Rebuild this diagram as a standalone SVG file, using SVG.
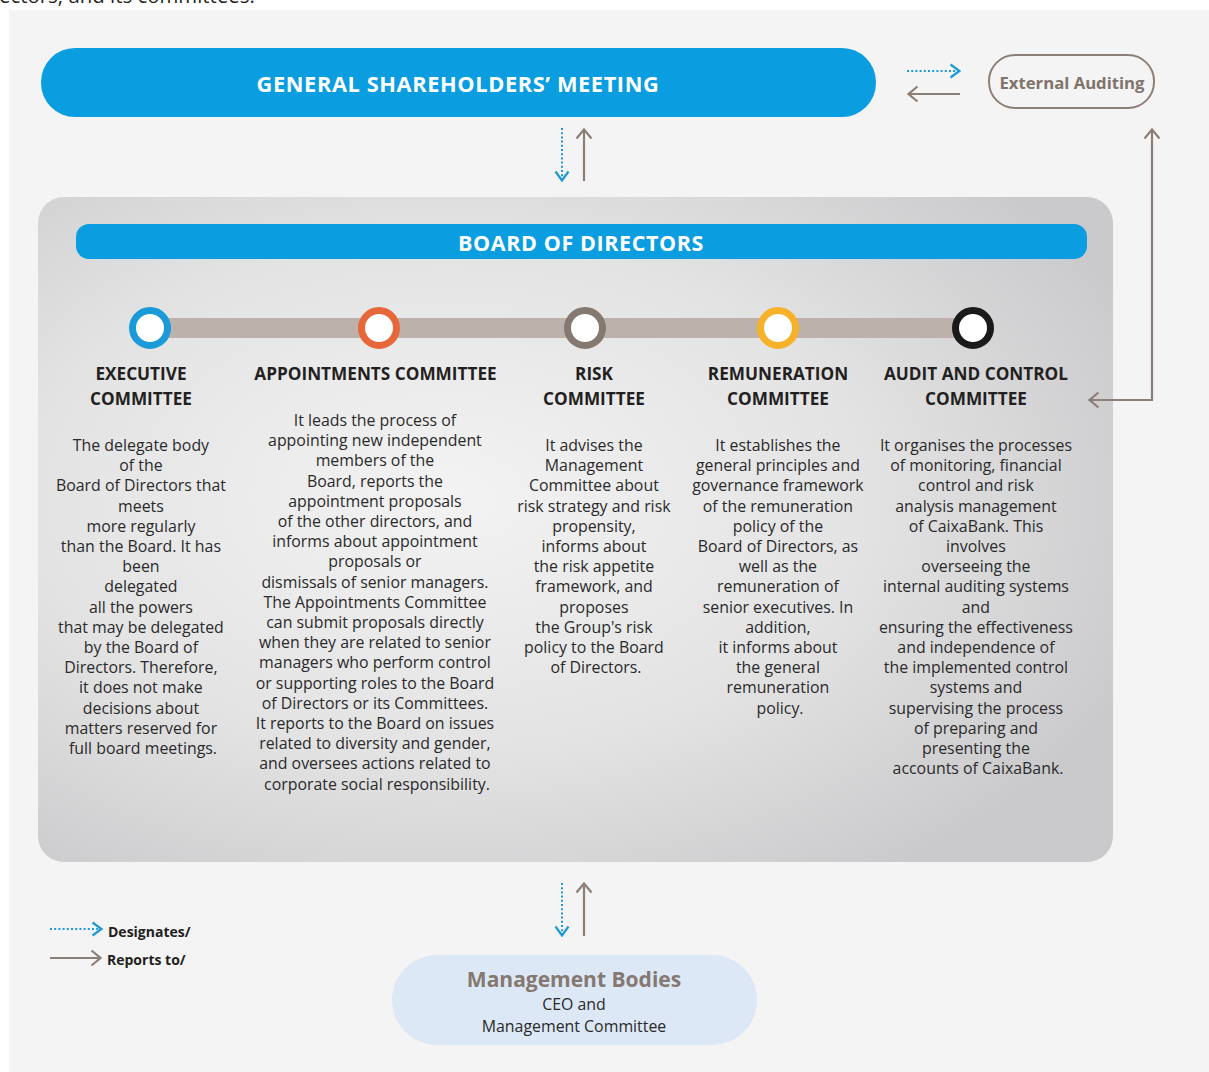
<svg xmlns="http://www.w3.org/2000/svg" width="1209" height="1072" viewBox="0 0 1209 1072">
<defs>
<style>
.body{font-family:"Open Sans","Liberation Sans",sans-serif;font-size:15.9px;fill:#2a2a2a;text-anchor:middle}
.title{font-family:"Open Sans","Liberation Sans",sans-serif;font-size:17.2px;font-weight:700;fill:#231f20;text-anchor:middle}
.hdr{font-family:"Open Sans","Liberation Sans",sans-serif;font-weight:700;fill:#ffffff;text-anchor:middle;letter-spacing:0.6px}
.dot{fill:none;stroke:#1d9ad6;stroke-width:2;stroke-dasharray:2 2.2}
.sol{fill:none;stroke:#8c7f78;stroke-width:2.2}
.leg{font-family:"Open Sans","Liberation Sans",sans-serif;font-size:14px;font-weight:700;fill:#231f20}
</style>
<marker id="mb" viewBox="0 0 12 16" refX="11" refY="8" markerWidth="12" markerHeight="16" markerUnits="userSpaceOnUse" orient="auto">
<path d="M1.5,1.5 L10.5,8 L1.5,14.5" fill="none" stroke="#1d9ad6" stroke-width="2.2"/>
</marker>
<marker id="mg" viewBox="0 0 12 18" refX="11" refY="9" markerWidth="12" markerHeight="18" markerUnits="userSpaceOnUse" orient="auto-start-reverse">
<path d="M1.5,1.5 L10.5,9 L1.5,16.5" fill="none" stroke="#8c7f78" stroke-width="2.2"/>
</marker>
<radialGradient id="bg" cx="0.38" cy="0.45" r="0.7">
<stop offset="0" stop-color="#f3f3f3"/>
<stop offset="0.55" stop-color="#e3e3e4"/>
<stop offset="1" stop-color="#cacacc"/>
</radialGradient>
</defs>
<rect x="0" y="0" width="1209" height="1072" fill="#ffffff"/>
<text x="-1" y="3" font-family="Open Sans, Liberation Sans, sans-serif" font-size="20.4" fill="#231f20">ectors, and its committees.</text>
<rect x="9" y="10" width="1200" height="1062" fill="#f4f4f4"/>

<g id="gsm">
<rect x="41" y="48" width="835" height="69" rx="34" fill="#0a9de0"/>
<text class="hdr" x="458" y="92" font-size="21.8">GENERAL SHAREHOLDERS’ MEETING</text>
</g>

<g id="external-auditing">
<rect x="989" y="55" width="165" height="53" rx="26" fill="none" stroke="#8c7f78" stroke-width="2"/>
<text x="1072" y="89" text-anchor="middle" font-family="Open Sans, Liberation Sans, sans-serif" font-size="16.7" font-weight="700" fill="#7f736c">External Auditing</text>
</g>

<g id="board">
<rect x="38" y="197" width="1075" height="665" rx="26" fill="url(#bg)"/>
<rect x="76" y="224" width="1011" height="35" rx="13" fill="#0a9de0"/>
<text class="hdr" x="581" y="250.5" font-size="21.5">BOARD OF DIRECTORS</text>
<rect x="150" y="318" width="823" height="20" fill="#bcb2ab"/>
</g>

<g id="executive-committee">
<circle cx="150" cy="328" r="17.5" fill="#ffffff" stroke="#1a9ad6" stroke-width="7"/>
<text class="title" x="141" y="380">EXECUTIVE</text>
<text class="title" x="141" y="405">COMMITTEE</text>
<text class="body" y="451">
<tspan x="143">The delegate body</tspan>
<tspan x="143" dy="20.2">of the</tspan>
<tspan x="143" dy="20.2">Board of Directors that</tspan>
<tspan x="143" dy="20.2">meets</tspan>
<tspan x="143" dy="20.2">more regularly</tspan>
<tspan x="143" dy="20.2">than the Board. It has</tspan>
<tspan x="143" dy="20.2">been</tspan>
<tspan x="143" dy="20.2">delegated</tspan>
<tspan x="143" dy="20.2">all the powers</tspan>
<tspan x="143" dy="20.2">that may be delegated</tspan>
<tspan x="143" dy="20.2">by the Board of</tspan>
<tspan x="143" dy="20.2">Directors. Therefore,</tspan>
<tspan x="143" dy="20.2">it does not make</tspan>
<tspan x="143" dy="20.2">decisions about</tspan>
<tspan x="143" dy="20.2">matters reserved for</tspan>
<tspan x="143" dy="20.2">full board meetings.</tspan>
</text>
</g>

<g id="appointments-committee">
<circle cx="379" cy="328" r="17.5" fill="#ffffff" stroke="#e8673a" stroke-width="7"/>
<text class="title" x="375.5" y="380">APPOINTMENTS COMMITTEE</text>
<text class="body" y="426">
<tspan x="377">It leads the process of</tspan>
<tspan x="377" dy="20.2">appointing new independent</tspan>
<tspan x="377" dy="20.2">members of the</tspan>
<tspan x="377" dy="20.2">Board, reports the</tspan>
<tspan x="377" dy="20.2">appointment proposals</tspan>
<tspan x="377" dy="20.2">of the other directors, and</tspan>
<tspan x="377" dy="20.2">informs about appointment</tspan>
<tspan x="377" dy="20.2">proposals or</tspan>
<tspan x="377" dy="20.2">dismissals of senior managers.</tspan>
<tspan x="377" dy="20.2">The Appointments Committee</tspan>
<tspan x="377" dy="20.2">can submit proposals directly</tspan>
<tspan x="377" dy="20.2">when they are related to senior</tspan>
<tspan x="377" dy="20.2">managers who perform control</tspan>
<tspan x="377" dy="20.2">or supporting roles to the Board</tspan>
<tspan x="377" dy="20.2">of Directors or its Committees.</tspan>
<tspan x="377" dy="20.2">It reports to the Board on issues</tspan>
<tspan x="377" dy="20.2">related to diversity and gender,</tspan>
<tspan x="377" dy="20.2">and oversees actions related to</tspan>
<tspan x="377" dy="20.2">corporate social responsibility.</tspan>
</text>
</g>

<g id="risk-committee">
<circle cx="585" cy="328" r="17.5" fill="#ffffff" stroke="#857870" stroke-width="7"/>
<text class="title" x="594" y="380">RISK</text>
<text class="title" x="594" y="405">COMMITTEE</text>
<text class="body" y="451">
<tspan x="596">It advises the</tspan>
<tspan x="596" dy="20.2">Management</tspan>
<tspan x="596" dy="20.2">Committee about</tspan>
<tspan x="596" dy="20.2">risk strategy and risk</tspan>
<tspan x="596" dy="20.2">propensity,</tspan>
<tspan x="596" dy="20.2">informs about</tspan>
<tspan x="596" dy="20.2">the risk appetite</tspan>
<tspan x="596" dy="20.2">framework, and</tspan>
<tspan x="596" dy="20.2">proposes</tspan>
<tspan x="596" dy="20.2">the Group's risk</tspan>
<tspan x="596" dy="20.2">policy to the Board</tspan>
<tspan x="596" dy="20.2">of Directors.</tspan>
</text>
</g>

<g id="remuneration-committee">
<circle cx="778" cy="328" r="17.5" fill="#ffffff" stroke="#f7b22a" stroke-width="7"/>
<text class="title" x="778" y="380">REMUNERATION</text>
<text class="title" x="778" y="405">COMMITTEE</text>
<text class="body" y="451">
<tspan x="780">It establishes the</tspan>
<tspan x="780" dy="20.2">general principles and</tspan>
<tspan x="780" dy="20.2">governance framework</tspan>
<tspan x="780" dy="20.2">of the remuneration</tspan>
<tspan x="780" dy="20.2">policy of the</tspan>
<tspan x="780" dy="20.2">Board of Directors, as</tspan>
<tspan x="780" dy="20.2">well as the</tspan>
<tspan x="780" dy="20.2">remuneration of</tspan>
<tspan x="780" dy="20.2">senior executives. In</tspan>
<tspan x="780" dy="20.2">addition,</tspan>
<tspan x="780" dy="20.2">it informs about</tspan>
<tspan x="780" dy="20.2">the general</tspan>
<tspan x="780" dy="20.2">remuneration</tspan>
<tspan x="780" dy="20.2">policy.</tspan>
</text>
</g>

<g id="audit-control-committee">
<circle cx="973" cy="328" r="17.5" fill="#ffffff" stroke="#1a1a1a" stroke-width="7"/>
<text class="title" x="976" y="380">AUDIT AND CONTROL</text>
<text class="title" x="976" y="405">COMMITTEE</text>
<text class="body" y="451">
<tspan x="978">It organises the processes</tspan>
<tspan x="978" dy="20.2">of monitoring, financial</tspan>
<tspan x="978" dy="20.2">control and risk</tspan>
<tspan x="978" dy="20.2">analysis management</tspan>
<tspan x="978" dy="20.2">of CaixaBank. This</tspan>
<tspan x="978" dy="20.2">involves</tspan>
<tspan x="978" dy="20.2">overseeing the</tspan>
<tspan x="978" dy="20.2">internal auditing systems</tspan>
<tspan x="978" dy="20.2">and</tspan>
<tspan x="978" dy="20.2">ensuring the effectiveness</tspan>
<tspan x="978" dy="20.2">and independence of</tspan>
<tspan x="978" dy="20.2">the implemented control</tspan>
<tspan x="978" dy="20.2">systems and</tspan>
<tspan x="978" dy="20.2">supervising the process</tspan>
<tspan x="978" dy="20.2">of preparing and</tspan>
<tspan x="978" dy="20.2">presenting the</tspan>
<tspan x="978" dy="20.2">accounts of CaixaBank.</tspan>
</text>
</g>

<g id="management-bodies">
<rect x="392" y="955" width="365" height="90" rx="45" fill="#dce8f6"/>
<text x="574" y="987" text-anchor="middle" font-family="Open Sans, Liberation Sans, sans-serif" font-size="21" font-weight="700" fill="#857870">Management Bodies</text>
<text class="body" x="574" y="1010">CEO and</text>
<text class="body" x="574" y="1032">Management Committee</text>
</g>

<g id="connectors">
<line class="dot" x1="907" y1="71" x2="960" y2="71" marker-end="url(#mb)"/>
<line class="sol" x1="960" y1="94" x2="908" y2="94" marker-end="url(#mg)"/>
<path class="sol" d="M1152,129 L1152,400 L1089,400" marker-start="url(#mg)" marker-end="url(#mg)"/>
<line class="dot" x1="562" y1="128" x2="562" y2="181" marker-end="url(#mb)"/>
<line class="sol" x1="584" y1="181" x2="584" y2="129" marker-end="url(#mg)"/>
<line class="dot" x1="562" y1="883" x2="562" y2="936" marker-end="url(#mb)"/>
<line class="sol" x1="584" y1="936" x2="584" y2="883" marker-end="url(#mg)"/>
</g>

<g id="legend">
<line class="dot" x1="50" y1="929" x2="102" y2="929" marker-end="url(#mb)"/>
<line class="sol" x1="50" y1="958" x2="101" y2="958" marker-end="url(#mg)"/>
<text class="leg" x="108" y="937">Designates/</text>
<text class="leg" x="107" y="965">Reports to/</text>
</g>
</svg>
